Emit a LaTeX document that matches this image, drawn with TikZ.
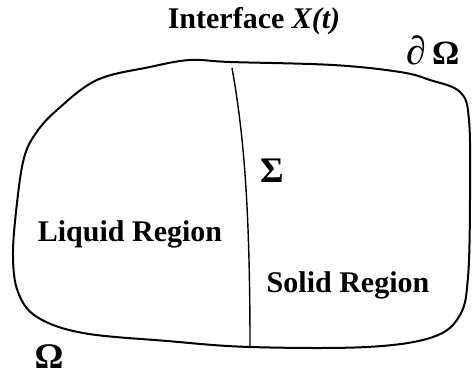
\documentclass[tikz,border=0pt]{standalone}
\usepackage{fontspec}
\setmainfont{Liberation Serif}
\usepackage{tikz}
\usetikzlibrary{positioning}

\begin{document}
\begin{tikzpicture}[
    x=0.5pt, y=-0.5pt,
    boundary/.style={line width=1pt, line join=round},
    interface/.style={line width=0.7pt},
    label/.style={font=\fontsize{15}{18}\selectfont\bfseries, anchor=base, inner sep=0pt}
]
    \useasboundingbox (0,0) rectangle (472,378);

    % domain boundary
    \draw[boundary] plot[smooth cycle, tension=0.6] coordinates {
        (13,255) (17,203) (24,158) (36,133) (57,110) (97,80) (150,67)
        (190,60) (230,62) (333,65) (400,72) (430,80) (460,92) (469,120)
        (470,200) (468,277) (460,315) (433,337) (367,347) (250,347)
        (167,341) (83,333) (37,317) (18,292)};

    % interface between the regions
    \coordinate (itop) at (232,68);
    \coordinate (ibot) at (250,347);
    \draw[interface] (itop) .. controls (243,130) and (250,200) .. (ibot);

    \node[label] (title) at (254,29) {Interface \itshape X(t)};
    \node[label, font=\fontsize{17}{20}\selectfont\bfseries] (dom) at (433,65)
        {{\fontsize{20}{20}\selectfont\itshape ∂}\,Ω};
    \node[label, font=\fontsize{18}{20}\selectfont\bfseries] (sig) at (272,183) {Σ};
    \node[label] (liq) at (130,242) {Liquid Region};
    \node[label] (sol) at (348,293) {Solid Region};
    \node[label, font=\fontsize{18}{20}\selectfont\bfseries] (om) at (49,369) {Ω};
\end{tikzpicture}
\end{document}
